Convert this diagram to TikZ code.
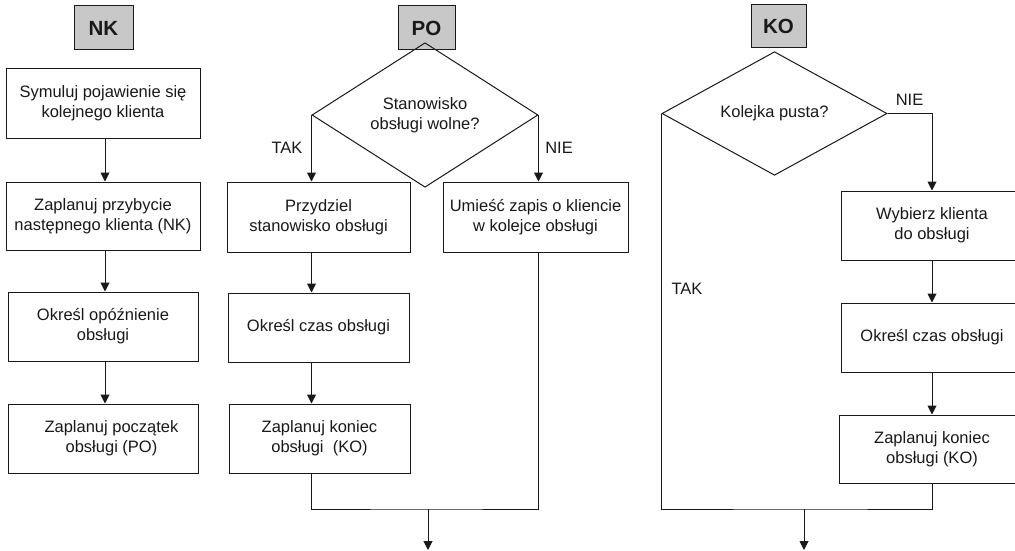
\documentclass[tikz,border=0pt]{standalone}
\usepackage{fontspec}
\setmainfont{Liberation Sans}
\usetikzlibrary{shapes.geometric,arrows.meta}
\definecolor{hdrgray}{RGB}{200,200,200}
\definecolor{ink}{RGB}{25,25,25}

\begin{document}
\begin{tikzpicture}[x=1pt,y=-1pt,
  every node/.style={font=\fontsize{16.5}{20}\selectfont, text=ink},
  line/.style={draw=ink, line width=1pt},
  arr/.style={line, -{Triangle[length=9pt,width=9pt]}},
  procbox/.style={draw=ink, line width=1pt, rectangle, inner sep=0pt, align=center},
  header/.style={draw=ink, fill=hdrgray, line width=1pt, inner sep=0pt,
                 font=\fontsize{20.5}{24}\selectfont\bfseries},
  decision/.style={diamond, draw=ink, line width=1pt, inner sep=0pt, align=center,
                   minimum width=226pt, minimum height=121pt},
  answer/.style={inner sep=0pt}]

\useasboundingbox (0,0) rectangle (1015,551);
\fill[white] (0,0) rectangle (1015,551);
\clip (0,0) rectangle (1015,551);

% event headers
\node[header, minimum width=59pt, minimum height=44pt] (hNK) at (103.5,28) {NK};
\node[header, minimum width=57pt, minimum height=44pt] (hPO) at (426.5,28) {PO};
\node[header, minimum width=55pt, minimum height=43pt] (hKO) at (778.5,26.5) {KO};

% NK: arrival of a customer
\node[procbox, minimum width=194pt, minimum height=69pt] (n1) at (103,103.5) {Symuluj pojawienie się\\kolejnego klienta};
\node[procbox, minimum width=194pt, minimum height=68pt] (n2) at (103,216) {Zaplanuj przybycie\\następnego klienta (NK)};
\node[procbox, minimum width=190pt, minimum height=69pt] (n3) at (103,326.5) {Określ opóźnienie\\obsługi};
\node[procbox, minimum width=190pt, minimum height=69pt] (n4) at (103,438.5) {\hspace*{17pt}Zaplanuj początek\\\hspace*{17pt}obsługi (PO)};

\draw[arr] ([xshift=2pt]n1.south) -- ([xshift=2pt]n2.north);
\draw[arr] ([xshift=2pt]n2.south) -- ([xshift=2pt]n3.north);
\draw[arr] ([xshift=2pt]n3.south) -- ([xshift=2pt]n4.north);

% PO: start of service
\node[decision] (d1) at (425,115) {Stanowisko\\obsługi wolne?};
\node[procbox, minimum width=183pt, minimum height=70pt] (p1) at (318.5,217) {Przydziel\\stanowisko obsługi};
\node[procbox, minimum width=185pt, minimum height=70pt] (p2) at (535.5,217) {Umieść zapis o kliencie\\w kolejce obsługi};
\node[procbox, minimum width=181pt, minimum height=69pt] (p3) at (318.5,327.5) {Określ czas obsługi};
\node[procbox, minimum width=181pt, minimum height=69pt] (p4) at (319.5,438.5) {Zaplanuj koniec\\obsługi\ \ (KO)};
\node[answer] (t1) at (287,148) {TAK};
\node[answer] (f1) at (559,148) {NIE};
\coordinate (m1) at (428,509);
\coordinate (e1) at (428,550);

\draw[arr] (d1.west) -- (d1.west |- p1.north);
\draw[arr] (d1.east) -- (d1.east |- p2.north);
\draw[arr] (p1.south -| d1.west) -- (p3.north -| d1.west);
\draw[arr] (p3.south -| d1.west) -- (p4.north -| d1.west);
\draw[line] (p4.south -| d1.west) |- (m1) -| (p2.south -| d1.east);
\draw[arr] (m1) -- (e1);

% KO: end of service
\node[decision, minimum width=225pt] (d2) at (774.5,113.5) {Kolejka pusta?};
\node[procbox, minimum width=182pt, minimum height=69pt] (k1) at (932,225.5) {Wybierz klienta\\do obsługi};
\node[procbox, minimum width=182pt, minimum height=69pt] (k2) at (932,337.5) {Określ czas obsługi};
\node[procbox, minimum width=186pt, minimum height=68pt] (k3) at (932,449) {Zaplanuj koniec\\obsługi (KO)};
\node[answer] (f2) at (909.5,100) {NIE};
\node[answer] (t2) at (687,289) {TAK};
\coordinate (m2) at (804,509);
\coordinate (e2) at (804,550);

\draw[arr] (d2.east) -| (k1.north);
\draw[arr] (k1.south) -- (k2.north);
\draw[arr] (k2.south) -- (k3.north);
\draw[line] (k3.south) |- (m2) -| (d2.west);
\draw[arr] (m2) -- (e2);
\end{tikzpicture}
\end{document}
